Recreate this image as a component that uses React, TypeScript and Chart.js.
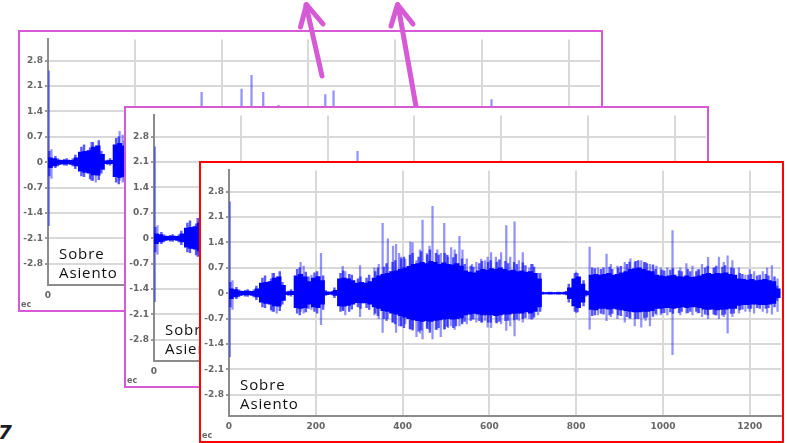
import React, { useEffect, useRef } from 'react';
import { Chart, registerables } from 'chart.js';

Chart.register(...registerables);

// x axis ticks (seconds) and y axis ticks (acceleration)
const xTicks = [0, 200, 400, 600, 800, 1000, 1200];
const yTicks = [-2.8, -2.1, -1.4, -0.7, 0, 0.7, 1.4, 2.1, 2.8];

// dense signal envelope, 10 s bins (bin centres)
const coreTime = [
  5, 15, 25, 35, 45, 55, 65, 75, 85, 95,
  105, 115, 125, 135, 145, 155, 165, 175, 185, 195,
  205, 215, 225, 235, 245, 255, 265, 275, 285, 295,
  305, 315, 325, 335, 345, 355, 365, 375, 385, 395,
  405, 415, 425, 435, 445, 455, 465, 475, 485, 495,
  505, 515, 525, 535, 545, 555, 565, 575, 585, 595,
  605, 615, 625, 635, 645, 655, 665, 675, 685, 695,
  705, 715, 725, 735, 745, 755, 765, 775, 785, 795,
  805, 815, 825, 835, 845, 855, 865, 875, 885, 895,
  905, 915, 925, 935, 945, 955, 965, 975, 985, 995,
  1005, 1015, 1025, 1035, 1045, 1055, 1065, 1075, 1085, 1095,
  1105, 1115, 1125, 1135, 1145, 1155, 1165, 1175, 1185, 1195,
  1205, 1215, 1225, 1235, 1245, 1255, 1265,
];
const coreHigh = [
  0.12, 0.1, 0.06, 0.05, 0.06, 0.05, 0.12, 0.28, 0.3, 0.32,
  0.42, 0.45, 0.22, 0.04, 0.05, 0.48, 0.52, 0.45, 0.32, 0.42,
  0.46, 0.35, 0.04, 0.03, 0.08, 0.4, 0.42, 0.4, 0.35, 0.28,
  0.3, 0.28, 0.32, 0.42, 0.48, 0.52, 0.55, 0.6, 0.62, 0.66,
  0.7, 0.74, 0.8, 0.82, 0.85, 0.82, 0.88, 0.85, 0.8, 0.84,
  0.8, 0.78, 0.82, 0.75, 0.62, 0.58, 0.56, 0.62, 0.66, 0.64,
  0.68, 0.66, 0.7, 0.66, 0.62, 0.64, 0.6, 0.62, 0.58, 0.6,
  0.55, 0.4, 0.02, 0.02, 0.02, 0.02, 0.02, 0.03, 0.15, 0.4,
  0.45, 0.25, 0.05, 0.5, 0.52, 0.5, 0.52, 0.55, 0.5, 0.52,
  0.56, 0.6, 0.66, 0.68, 0.7, 0.66, 0.62, 0.6, 0.5, 0.48,
  0.46, 0.48, 0.5, 0.46, 0.45, 0.48, 0.44, 0.45, 0.48, 0.52,
  0.55, 0.52, 0.55, 0.54, 0.56, 0.52, 0.5, 0.4, 0.38, 0.36,
  0.38, 0.35, 0.36, 0.38, 0.35, 0.32, 0.12,
];
const coreLow = [
  -0.15, -0.1, -0.06, -0.05, -0.05, -0.06, -0.1, -0.25, -0.28, -0.3,
  -0.35, -0.36, -0.2, -0.04, -0.04, -0.4, -0.42, -0.4, -0.3, -0.38,
  -0.4, -0.3, -0.04, -0.03, -0.06, -0.35, -0.36, -0.34, -0.3, -0.26,
  -0.27, -0.27, -0.3, -0.38, -0.42, -0.48, -0.5, -0.55, -0.58, -0.62,
  -0.66, -0.7, -0.74, -0.76, -0.78, -0.76, -0.78, -0.75, -0.74, -0.72,
  -0.7, -0.72, -0.7, -0.68, -0.6, -0.58, -0.56, -0.58, -0.6, -0.6,
  -0.6, -0.62, -0.6, -0.58, -0.58, -0.56, -0.55, -0.55, -0.52, -0.55,
  -0.5, -0.38, -0.02, -0.02, -0.02, -0.02, -0.02, -0.03, -0.15, -0.35,
  -0.4, -0.25, -0.05, -0.45, -0.46, -0.42, -0.42, -0.44, -0.42, -0.44,
  -0.46, -0.48, -0.5, -0.52, -0.52, -0.5, -0.5, -0.48, -0.42, -0.42,
  -0.4, -0.4, -0.42, -0.4, -0.38, -0.4, -0.38, -0.38, -0.4, -0.44,
  -0.45, -0.44, -0.46, -0.45, -0.44, -0.42, -0.42, -0.34, -0.32, -0.32,
  -0.3, -0.3, -0.32, -0.32, -0.3, -0.28, -0.12,
];

// outer fringe of the dense signal, one stroke per 10 s bin
const fringeTime = [
  3, 17, 23, 37, 43, 57, 63, 77, 83, 97,
  103, 117, 123, 137, 143, 157, 163, 177, 183, 197,
  203, 217, 223, 237, 243, 257, 263, 277, 283, 297,
  303, 317, 323, 337, 343, 357, 363, 377, 383, 397,
  403, 417, 423, 437, 443, 457, 463, 477, 483, 497,
  503, 517, 523, 537, 543, 557, 563, 577, 583, 597,
  603, 617, 623, 637, 643, 657, 663, 677, 683, 697,
  703, 717, 723, 737, 743, 757, 763, 777, 783, 797,
  803, 817, 823, 837, 843, 857, 863, 877, 883, 897,
  903, 917, 923, 937, 943, 957, 963, 977, 983, 997,
  1003, 1017, 1023, 1037, 1043, 1057, 1063, 1077, 1083, 1097,
  1103, 1117, 1123, 1137, 1143, 1157, 1163, 1177, 1183, 1197,
  1203, 1217, 1223, 1237, 1243, 1257, 1263,
];
const fringeHigh = [
  0.3, 0.16, 0.09, 0.08, 0.1, 0.09, 0.2, 0.42, 0.48, 0.4,
  0.55, 0.6, 0.3, 0.06, 0.1, 0.66, 0.7, 0.58, 0.45, 0.56,
  0.6, 0.48, 0.07, 0.05, 0.15, 0.55, 0.62, 0.52, 0.5, 0.4,
  0.45, 0.42, 0.5, 0.6, 0.7, 0.72, 0.82, 0.85, 0.9, 0.95,
  1.0, 1.05, 1.1, 1.0, 1.15, 1.05, 1.2, 1.1, 1.05, 1.1,
  1.05, 0.98, 1.08, 0.95, 0.8, 0.75, 0.72, 0.82, 0.88, 0.85,
  0.9, 0.86, 0.92, 0.88, 0.82, 0.85, 0.8, 0.84, 0.76, 0.8,
  0.72, 0.55, 0.03, 0.03, 0.03, 0.03, 0.03, 0.05, 0.25, 0.55,
  0.55, 0.35, 0.08, 0.7, 0.68, 0.66, 0.7, 0.72, 0.66, 0.7,
  0.74, 0.8, 0.86, 0.88, 0.9, 0.85, 0.82, 0.78, 0.66, 0.64,
  0.62, 0.64, 0.68, 0.62, 0.6, 0.66, 0.6, 0.6, 0.65, 0.7,
  0.74, 0.7, 0.75, 0.72, 0.76, 0.7, 0.68, 0.55, 0.52, 0.5,
  0.52, 0.48, 0.5, 0.52, 0.48, 0.45, 0.2,
];
const fringeLow = [
  -0.38, -0.15, -0.1, -0.08, -0.09, -0.1, -0.18, -0.38, -0.4, -0.46,
  -0.5, -0.48, -0.3, -0.06, -0.08, -0.55, -0.6, -0.52, -0.42, -0.5,
  -0.55, -0.45, -0.06, -0.05, -0.12, -0.5, -0.48, -0.5, -0.44, -0.38,
  -0.42, -0.4, -0.45, -0.55, -0.62, -0.7, -0.75, -0.8, -0.85, -0.9,
  -0.95, -0.98, -1.0, -1.05, -1.02, -0.98, -1.08, -1.0, -0.95, -0.98,
  -0.92, -0.95, -0.9, -0.85, -0.78, -0.75, -0.72, -0.76, -0.8, -0.8,
  -0.8, -0.82, -0.78, -0.76, -0.75, -0.74, -0.72, -0.7, -0.68, -0.72,
  -0.66, -0.5, -0.03, -0.03, -0.03, -0.03, -0.03, -0.05, -0.25, -0.5,
  -0.52, -0.35, -0.08, -0.62, -0.6, -0.56, -0.58, -0.6, -0.56, -0.6,
  -0.62, -0.65, -0.68, -0.7, -0.7, -0.68, -0.66, -0.64, -0.56, -0.55,
  -0.54, -0.52, -0.56, -0.54, -0.5, -0.54, -0.5, -0.5, -0.54, -0.58,
  -0.6, -0.58, -0.6, -0.6, -0.58, -0.56, -0.55, -0.46, -0.44, -0.42,
  -0.42, -0.4, -0.42, -0.42, -0.4, -0.38, -0.2,
];

// isolated peaks (lighter strokes)
const spikeTime = [
  2, 8, 100, 110, 165, 172, 190, 212, 262, 268,
  302, 335, 345, 354, 366, 378, 385, 392, 396, 406,
  418, 423, 432, 440, 446, 456, 462, 469, 480, 488,
  496, 505, 512, 520, 531, 538, 548, 560, 570, 581,
  590, 596, 604, 615, 627, 639, 648, 658, 668, 677,
  692, 700, 712, 800, 831, 850, 870, 880, 895, 912,
  925, 935, 950, 960, 970, 985, 995, 1010, 1022, 1040,
  1054, 1068, 1080, 1090, 1104, 1120, 1129, 1140, 1149, 1160,
  1175, 1190, 1200, 1210, 1230, 1240, 1251, 1264,
];
const spikeHigh = [
  2.52, 0.35, 0.55, 0.45, 0.85, 0.75, 0.5, 1.1, 0.74, 0.6,
  0.76, 0.7, 0.8, 1.93, 1.5, 1.3, 1.35, 1.1, 1.0, 0.94,
  1.41, 1.39, 0.9, 1.2, 2.02, 1.1, 1.3, 2.4, 1.2, 1.1,
  1.93, 1.0, 1.26, 1.2, 1.57, 1.2, 0.95, 0.8, 0.85, 0.94,
  0.9, 1.0, 1.12, 1.0, 1.12, 1.87, 1.0, 1.97, 0.9, 1.12,
  0.7, 0.8, 0.55, 0.58, 1.27, 0.7, 1.08, 0.8, 0.75, 0.85,
  0.95, 0.85, 0.9, 0.85, 0.8, 0.75, 0.7, 0.7, 1.73, 0.7,
  0.82, 0.75, 0.65, 0.8, 0.99, 0.7, 1.0, 0.85, 1.03, 0.9,
  0.7, 0.5, 0.65, 0.6, 0.6, 0.7, 0.76, 0.4,
];
const spikeLow = [
  -1.75, -0.45, -0.5, -0.55, -0.5, -0.55, -0.45, -0.87, -0.45, -0.6,
  -0.65, -0.6, -0.7, -1.08, -0.7, -0.8, -1.08, -0.9, -0.9, -0.85,
  -1.0, -1.03, -1.2, -1.1, -1.26, -0.95, -1.0, -1.26, -1.0, -1.2,
  -1.0, -0.95, -0.9, -1.0, -0.9, -0.8, -0.85, -0.7, -0.8, -0.8,
  -0.75, -0.94, -0.95, -0.8, -0.85, -1.03, -0.9, -1.18, -0.75, -0.8,
  -0.7, -0.7, -0.6, -0.54, -0.99, -0.6, -0.76, -0.65, -0.7, -0.8,
  -0.7, -0.9, -0.94, -0.75, -0.9, -0.6, -0.6, -0.6, -1.7, -0.6,
  -0.55, -0.6, -0.55, -0.65, -0.7, -0.6, -0.7, -0.65, -1.1, -0.65,
  -0.55, -0.5, -0.5, -0.55, -0.5, -0.55, -0.58, -0.5,
];

const TICK_FONT = { family: 'DejaVu Sans', size: 9, weight: 'bold' as const };
const GRID = '#d9d9d9';

function floatBars(times: number[], lows: number[], highs: number[]) {
  return times.map((t, i) => ({ x: t, y: [lows[i], highs[i]] }));
}

function makeConfig(): any {
  return {
    type: 'bar',
    data: {
      datasets: [
        {
          label: 'peaks',
          data: floatBars(spikeTime, spikeLow, spikeHigh),
          backgroundColor: 'rgba(40,40,255,0.5)',
          borderWidth: 0,
          barThickness: 1.6,
          grouped: false,
          order: 3,
        },
        {
          label: 'fringe',
          data: floatBars(fringeTime, fringeLow, fringeHigh),
          backgroundColor: 'rgba(20,20,255,0.7)',
          borderWidth: 0,
          barThickness: 1.8,
          grouped: false,
          order: 2,
        },
        {
          label: 'signal',
          data: floatBars(coreTime, coreLow, coreHigh),
          backgroundColor: '#0000ff',
          borderWidth: 0,
          barThickness: 4.5,
          grouped: false,
          order: 1,
        },
      ],
    },
    options: {
      animation: false,
      responsive: false,
      events: [],
      layout: { padding: { top: 1, right: 1, left: 0, bottom: 0 } },
      plugins: { legend: { display: false }, tooltip: { enabled: false }, title: { display: false } },
      scales: {
        x: {
          type: 'linear',
          min: 0,
          max: 1272,
          offset: false,
          afterBuildTicks: (s: any) => {
            s.ticks = xTicks.map((v) => ({ value: v }));
          },
          afterFit: (s: any) => {
            s.height = 25;
          },
          grid: { color: GRID, lineWidth: 2, drawTicks: false, offset: false },
          border: { color: '#8c8c8c', width: 2 },
          ticks: {
            color: '#666',
            font: TICK_FONT,
            padding: 5,
            maxRotation: 0,
            autoSkip: false,
            callback: (v: any) => String(v),
          },
        },
        y: {
          type: 'linear',
          min: -3.39,
          max: 3.39,
          afterBuildTicks: (s: any) => {
            s.ticks = yTicks.map((v) => ({ value: v }));
          },
          afterFit: (s: any) => {
            s.width = 28;
          },
          grid: { color: GRID, lineWidth: 2, tickLength: 3, tickColor: '#999' },
          border: { color: '#8c8c8c', width: 2 },
          ticks: {
            color: '#666',
            font: TICK_FONT,
            padding: 2,
            autoSkip: false,
            callback: (v: any) => String(Math.round(Number(v) * 10) / 10),
          },
        },
      },
    },
  };
}

function Panel({ left, top, color }: { left: number; top: number; color: string }) {
  const ref = useRef<HTMLCanvasElement>(null);
  useEffect(() => {
    const chart = new Chart(ref.current as HTMLCanvasElement, makeConfig());
    return () => chart.destroy();
  }, []);
  return (
    <div
      style={{
        position: 'absolute',
        left,
        top,
        width: 585,
        height: 282,
        border: `2px solid ${color}`,
        boxSizing: 'border-box',
        background: '#fff',
        overflow: 'hidden',
      }}
    >
      <canvas
        ref={ref}
        width={581}
        height={278}
        style={{ position: 'absolute', left: 0, top: 0, width: 581, height: 278 }}
      />
      <div
        style={{
          position: 'absolute',
          left: 39,
          top: 212,
          fontFamily: '"Open Sans", sans-serif',
          fontSize: 15,
          letterSpacing: '0.9px',
          lineHeight: '19px',
          color: '#111',
        }}
      >
        Sobre
        <br />
        Asiento
      </div>
      <div
        style={{
          position: 'absolute',
          left: 1,
          top: 268,
          fontFamily: '"DejaVu Sans", sans-serif',
          fontWeight: 'bold',
          fontSize: 8,
          lineHeight: '10px',
          color: '#666',
        }}
      >
        ec
      </div>
    </div>
  );
}

const ARROW = '#d65ad6';

export default function App() {
  return (
    <div
      style={{
        position: 'fixed',
        left: 0,
        top: 0,
        width: 787,
        height: 443,
        overflow: 'hidden',
        background: '#fff',
      }}
    >
      <div
        style={{
          position: 'absolute',
          left: -2,
          top: 420,
          fontFamily: '"DejaVu Sans", sans-serif',
          fontWeight: 'bold',
          fontStyle: 'italic',
          fontSize: 20,
          color: '#1c1c2a',
        }}
      >
        7
      </div>
      <Panel left={18} top={30} color={ARROW} />
      <svg width={787} height={443} style={{ position: 'absolute', left: 0, top: 0 }}>
        <g stroke={ARROW} strokeWidth={5} fill="none" strokeLinecap="round" strokeLinejoin="round">
          <line x1={322} y1={76} x2={306} y2={5} />
          <polyline points="300.5,27 306.5,4.5 323,24" />
          <line x1={417} y1={112} x2={398} y2={5} />
          <polyline points="391,26 397.5,4.5 413,24" />
        </g>
      </svg>
      <Panel left={124} top={106} color={ARROW} />
      <Panel left={199} top={161} color="#ff0000" />
    </div>
  );
}
